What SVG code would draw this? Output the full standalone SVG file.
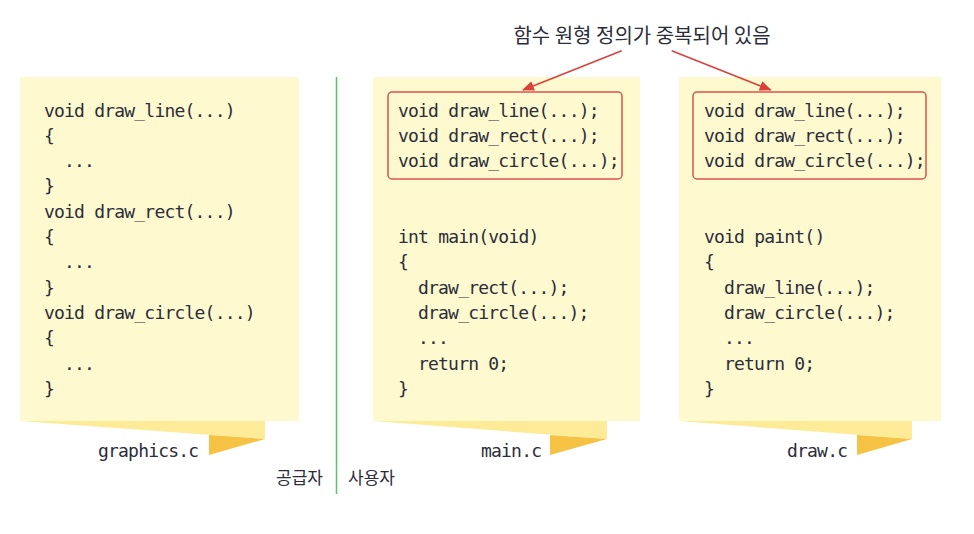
<svg xmlns="http://www.w3.org/2000/svg" width="974" height="534" viewBox="0 0 974 534">
<defs>
<style>
.page{fill:#fef9cf}
.band{fill:#fdeb98}
.tri{fill:#f5c243}
.code{font-family:"DejaVu Sans Mono","Liberation Mono",monospace;font-size:18px;letter-spacing:-0.8px;fill:#2b2d3a}
.kr{font-family:"Noto Sans CJK KR","Noto Sans",sans-serif;fill:#2b2d3a}
.box{fill:none;stroke:#d9544e;stroke-width:1.5}
.arr{stroke:#d9413b;stroke-width:1.5;fill:none}
</style>
<marker id="ah" markerWidth="12" markerHeight="10" refX="11" refY="5" orient="auto" markerUnits="userSpaceOnUse">
<path d="M0,0 L12,5 L0,10 z" fill="#d9413b"/>
</marker>
</defs>
<rect width="974" height="534" fill="#ffffff"/>

<g id="graphics_c">
<rect class="page" x="20" y="77" width="279" height="344"/>
<polygon class="band" points="20,421 265,421 265,439"/>
<polygon class="tri" points="209,435 265,439 209,455"/>
<text class="code" x="44" y="116.5">void draw_line(...)</text>
<text class="code" x="44" y="141.8">{</text>
<text class="code" x="64" y="167.1">...</text>
<text class="code" x="44" y="192.4">}</text>
<text class="code" x="44" y="217.7">void draw_rect(...)</text>
<text class="code" x="44" y="243">{</text>
<text class="code" x="64" y="268.3">...</text>
<text class="code" x="44" y="293.6">}</text>
<text class="code" x="44" y="318.9">void draw_circle(...)</text>
<text class="code" x="44" y="344.2">{</text>
<text class="code" x="64" y="369.5">...</text>
<text class="code" x="44" y="394.8">}</text>
<text class="code" x="98" y="457">graphics.c</text>
</g>

<g id="main_c">
<rect class="page" x="373" y="77" width="267" height="344"/>
<polygon class="band" points="373,421 607,421 607,439"/>
<polygon class="tri" points="550,435 607,439 550,455"/>
<rect class="box" x="388" y="92" width="234" height="87" rx="4"/>
<text class="code" x="398" y="116.5">void draw_line(...);</text>
<text class="code" x="398" y="141.8">void draw_rect(...);</text>
<text class="code" x="398" y="167.1">void draw_circle(...);</text>
<text class="code" x="398" y="243">int main(void)</text>
<text class="code" x="398" y="268.3">{</text>
<text class="code" x="418" y="293.6">draw_rect(...);</text>
<text class="code" x="418" y="318.9">draw_circle(...);</text>
<text class="code" x="418" y="344.2">...</text>
<text class="code" x="418" y="369.5">return 0;</text>
<text class="code" x="398" y="394.8">}</text>
<text class="code" x="481" y="457">main.c</text>
</g>

<g id="draw_c">
<rect class="page" x="679" y="77" width="262" height="344"/>
<polygon class="band" points="679,421 912,421 912,439"/>
<polygon class="tri" points="857,435 912,439 857,455"/>
<rect class="box" x="693" y="92" width="233" height="87" rx="4"/>
<text class="code" x="704" y="116.5">void draw_line(...);</text>
<text class="code" x="704" y="141.8">void draw_rect(...);</text>
<text class="code" x="704" y="167.1">void draw_circle(...);</text>
<text class="code" x="704" y="243">void paint()</text>
<text class="code" x="704" y="268.3">{</text>
<text class="code" x="724" y="293.6">draw_line(...);</text>
<text class="code" x="724" y="318.9">draw_circle(...);</text>
<text class="code" x="724" y="344.2">...</text>
<text class="code" x="724" y="369.5">return 0;</text>
<text class="code" x="704" y="394.8">}</text>
<text class="code" x="787" y="457">draw.c</text>
</g>

<g id="divider">
<line x1="336.5" y1="77" x2="336.5" y2="494" stroke="#5cbf6e" stroke-width="1.5"/>
<text class="kr" x="323" y="484" font-size="17" text-anchor="end">공급자</text>
<text class="kr" x="348" y="484" font-size="17">사용자</text>
</g>

<g id="note">
<text class="kr" x="642" y="43" font-size="20" text-anchor="middle">함수 원형 정의가 중복되어 있음</text>
</g>

<g id="connectors">
<line class="arr" x1="621.7" y1="50.7" x2="523" y2="90" marker-end="url(#ah)"/>
<line class="arr" x1="671.7" y1="50.7" x2="770.7" y2="90" marker-end="url(#ah)"/>
</g>
</svg>
